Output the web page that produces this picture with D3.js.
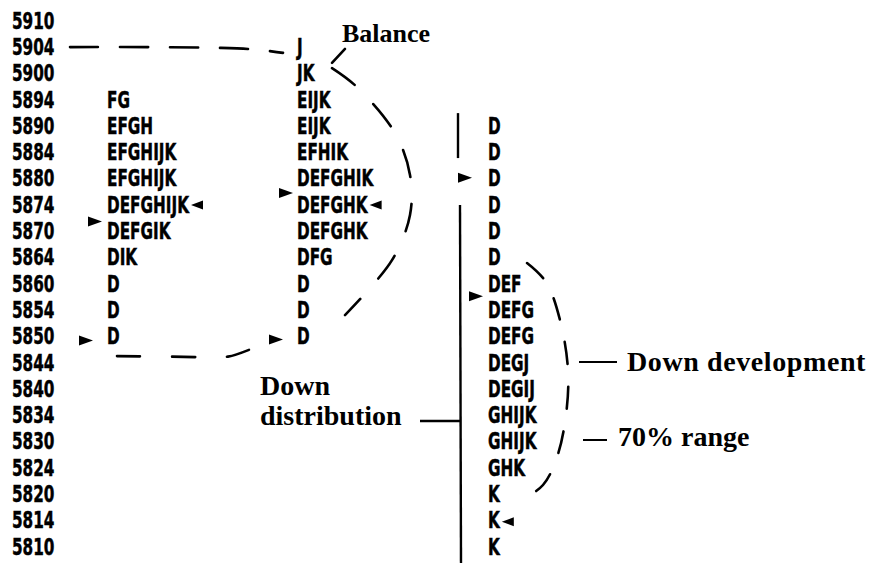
<!DOCTYPE html>
<html><head><meta charset="utf-8">
<script src="https://cdn.jsdelivr.net/npm/d3@7"></script>
<style>html,body{margin:0;padding:0;background:#fff;}svg{display:block;}</style>
</head><body>
<script>
// ---- data ----
const prices = [5910,5904,5900,5894,5890,5884,5880,5874,5870,5864,5860,5854,5850,5844,5840,5834,5830,5824,5820,5814,5810];

const profileAPrices  = [5894,5890,5884,5880,5874,5870,5864,5860,5854,5850];
const profileALetters = ["FG","EFGH","EFGHIJK","EFGHIJK","DEFGHIJK","DEFGIK","DIK","D","D","D"];

const profileBPrices  = [5904,5900,5894,5890,5884,5880,5874,5870,5864,5860,5854,5850];
const profileBLetters = ["J","JK","EIJK","EIJK","EFHIK","DEFGHIK","DEFGHK","DEFGHK","DFG","D","D","D"];

const profileCPrices  = [5890,5884,5880,5874,5870,5864,5860,5854,5850,5844,5840,5834,5830,5824,5820,5814,5810];
const profileCLetters = ["D","D","D","D","D","D","DEF","DEFG","DEFG","DEGJ","DEGIJ","GHIJK","GHIJK","GHK","K","K","K"];

const arrowProfiles = ["A","A","A","B","B","B","C","C","C"];
const arrowPrices   = [5874,5870,5850,5874,5874,5850,5880,5854,5814];
const arrowSides    = ["after","before","before","before","after","before","before","before","after"];

const annotationLabels = ["Balance","Down","distribution","Down development","70% range"];

// ---- layout ----
const W = 869, H = 563;
const svg = d3.select("body").append("svg").attr("width", W).attr("height", H);

const idx = d3.scaleLinear().domain([0, prices.length - 1]).range([20, 546]);
const y = d3.scalePoint().domain(prices).range([20, 546]);
const colX = d3.scaleOrdinal().domain(["P","A","B","C"]).range([12, 107, 297, 488]);

const SX = 0.65, FS = 23.5;
const monoFont = "'DejaVu Sans', sans-serif";
const serif = "'Liberation Serif','Times New Roman',serif";

function cText(g, x, yy, str) {
  return g.append("text")
    .attr("transform", `translate(${x},${yy + 8.6}) scale(${SX},1)`)
    .attr("font-family", monoFont).attr("font-weight", "bold").attr("font-size", FS)
    .attr("fill", "#000").attr("stroke", "#000").attr("stroke-width", 0.5)
    .text(str);
}

const axisG = svg.append("g");
prices.forEach(p => cText(axisG, colX("P"), y(p), String(p)));

const profiles = {
  A: {prices: profileAPrices, letters: profileALetters},
  B: {prices: profileBPrices, letters: profileBLetters},
  C: {prices: profileCPrices, letters: profileCLetters}
};
const textNodes = {};
Object.keys(profiles).forEach(k => {
  const g = svg.append("g");
  textNodes[k] = {};
  profiles[k].prices.forEach((p, i) => {
    textNodes[k][p] = cText(g, colX(k), y(p), profiles[k].letters[i]);
  });
});

// arrows
const arrowDy  = [1, -9, 5, -11, 1, 4, 0, -13, 2];
const arrowGap = [2, 5, 14, 4, 2, 14, 16, 5, 2];
const ag = svg.append("g");
arrowPrices.forEach((p, i) => {
  const k = arrowProfiles[i];
  const cy = y(p) + arrowDy[i];
  if (arrowSides[i] === "before") {
    const tip = colX(k) - arrowGap[i];
    ag.append("path").attr("d", `M${tip},${cy} L${tip-14},${cy-5} L${tip-14},${cy+5} Z`).attr("fill","#000");
  } else {
    const w = textNodes[k][p].node().getComputedTextLength() * SX;
    const tip = colX(k) + w + arrowGap[i];
    ag.append("path").attr("d", `M${tip},${cy} L${tip+12},${cy-4.5} L${tip+12},${cy+4.5} Z`).attr("fill","#000");
  }
});

// dashed hand-drawn curves: [x, fractional row index]
const lineGen = d3.line().x(d => d[0]).y(d => idx(d[1])).curve(d3.curveCatmullRom.alpha(0.5));
const curves = [
  {pts: [[70,1.03],[150,1.03],[220,1.06],[255,1.12],[283,1.25]], dash: "28 22"},
  {pts: [[117,12.78],[170,12.8],[205,12.82],[228,12.8],[251,12.51]], dash: "23 32"},
  {pts: [[345,1.10],[332,1.63]], dash: "none"},
  {pts: [[332,1.83],[357,2.55],[395,4.30],[410,5.89],[410,7.41],[392,9.13],[345,11.22]], dash: "28 27"},
  {pts: [[527,9.24],[546,9.96],[560,11.41],[568,13.31],[566,15.02],[557,16.62],[543,17.68],[517,18.37]], dash: "22 23"}
];
const cg = svg.append("g").attr("fill","none").attr("stroke","#000").attr("stroke-width",2.6).attr("stroke-linecap","round");
curves.forEach(c => {
  cg.append("path").attr("d", lineGen(c.pts)).attr("stroke-dasharray", c.dash === "none" ? null : c.dash);
});

// solid annotation lines
const lg = svg.append("g").attr("stroke","#000").attr("stroke-width",2.4).attr("fill","none");
lg.append("line").attr("x1",458).attr("x2",458).attr("y1",idx(3.54)).attr("y2",idx(5.25));
lg.append("line").attr("x1",460).attr("x2",461).attr("y1",idx(7.03)).attr("y2",H);
lg.append("line").attr("x1",420).attr("x2",460).attr("y1",421).attr("y2",421);
lg.append("line").attr("x1",579).attr("x2",617).attr("y1",362).attr("y2",362).attr("stroke-width",2);
lg.append("line").attr("x1",583).attr("x2",607).attr("y1",440).attr("y2",440).attr("stroke-width",2);

// annotation labels
const labelPos = [[342,42],[260,395],[260,425],[627,371],[618,446]];
const tg = svg.append("g").attr("font-family", serif).attr("font-weight","bold").attr("font-size",28).attr("fill","#000");
annotationLabels.forEach((s, i) => {
  tg.append("text").attr("x", labelPos[i][0]).attr("y", labelPos[i][1]).text(s)
    .attr("font-size", i === 0 ? 26 : 28)
    .attr("letter-spacing", i === 3 ? 0.6 : 0);
});
</script>
</body></html>
